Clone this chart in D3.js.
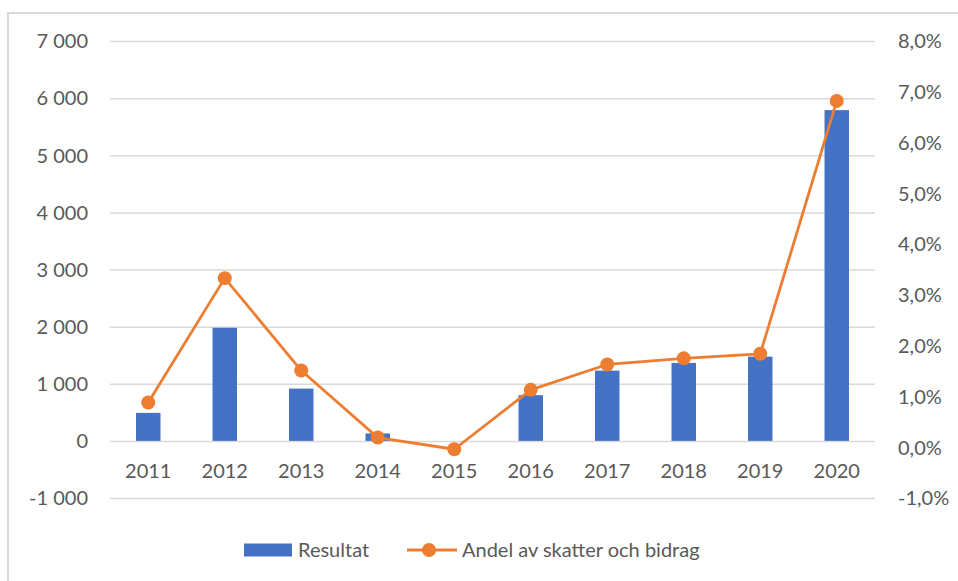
<!DOCTYPE html>
<html>
<head>
<meta charset="utf-8">
<script src="https://cdn.jsdelivr.net/npm/d3@7"></script>
<style>
  body{margin:0;background:#fff;}
  text{font-family:Lato,"Open Sans",sans-serif;fill:#595959;}
</style>
</head>
<body>
<svg id="svg" width="958" height="581"></svg>
<script>
var years=["2011","2012","2013","2014","2015","2016","2017","2018","2019","2020"];
var resultat=[490,1980,915,130,0,800,1230,1365,1475,5790];
var andel=[0.88,3.33,1.51,0.19,-0.04,1.13,1.63,1.75,1.84,6.82];
var leftTicks=[-1000,0,1000,2000,3000,4000,5000,6000,7000];
var rightTicks=[-1,0,1,2,3,4,5,6,7,8];
var seriesNames=["Resultat","Andel av skatter och bidrag"];

var blue="#4472C4", orange="#ED7D31", grid="#d9d9d9";
var plotLeft=110, plotRight=875, plotTop=41, plotBottom=498;

var svg=d3.select("#svg");
var locale=d3.formatLocale({decimal:",",thousands:" ",grouping:[3],currency:["","kr"],minus:"-"});

var x=d3.scaleBand().domain(years).range([plotLeft,plotRight]);
var yL=d3.scaleLinear().domain([-1000,7000]).range([plotBottom,plotTop]);
var yR=d3.scaleLinear().domain([-1,8]).range([plotBottom,plotTop]);

// frame
svg.append("path")
    .attr("d","M8,581V13H958")
    .attr("fill","none")
    .attr("stroke",grid)
    .attr("stroke-width",2);

// left axis + gridlines
var gl=svg.append("g")
    .attr("transform","translate("+plotLeft+",0)")
    .call(d3.axisLeft(yL).tickValues(leftTicks).tickSize(-(plotRight-plotLeft)).tickPadding(22).tickFormat(locale.format(",")));
gl.select(".domain").remove();
gl.selectAll("line").attr("stroke",grid).attr("stroke-width",1.5);
gl.selectAll("text").style("font-size","20px").attr("dy","0.34em");

// right axis
var gr=svg.append("g")
    .attr("transform","translate("+plotRight+",0)")
    .call(d3.axisRight(yR).tickValues(rightTicks).tickSize(0).tickPadding(23).tickFormat(d=>locale.format(".1f")(d)+"%"));
gr.select(".domain").remove();
gr.selectAll("text").style("font-size","20px").attr("dy","0.34em");

// bars
var bw=x.bandwidth()*0.32;
svg.append("g").selectAll("rect")
    .data(resultat).enter().append("rect")
        .attr("x",(d,i)=>x(years[i])+x.bandwidth()/2-bw/2)
        .attr("y",d=>yL(Math.max(d,0)))
        .attr("width",bw)
        .attr("height",d=>Math.abs(yL(d)-yL(0)))
        .attr("fill",blue);

// x axis labels
var gx=svg.append("g")
    .attr("transform","translate(0,"+yL(0)+")")
    .call(d3.axisBottom(x).tickSize(0).tickPadding(23));
gx.select(".domain").remove();
gx.selectAll("text").style("font-size","20px");

// line
var line=d3.line()
    .x((d,i)=>x(years[i])+x.bandwidth()/2)
    .y(d=>yR(d));
svg.append("path")
    .datum(andel)
    .attr("d",line)
    .attr("fill","none")
    .attr("stroke",orange)
    .attr("stroke-width",2.8)
    .attr("stroke-linejoin","round");
svg.append("g").selectAll("circle")
    .data(andel).enter().append("circle")
        .attr("cx",(d,i)=>x(years[i])+x.bandwidth()/2)
        .attr("cy",d=>yR(d))
        .attr("r",7)
        .attr("fill",orange);

// legend
var lg=svg.append("g").attr("transform","translate(0,550)");
lg.append("rect").attr("x",244).attr("y",-6.5).attr("width",48).attr("height",13).attr("fill",blue);
lg.append("text").attr("x",298).attr("dy","0.35em").style("font-size","20px").text(seriesNames[0]);
lg.append("line").attr("x1",407).attr("x2",457).attr("stroke",orange).attr("stroke-width",2.8);
lg.append("circle").attr("cx",429).attr("r",7).attr("fill",orange);
lg.append("text").attr("x",462).attr("dy","0.35em").style("font-size","20px").text(seriesNames[1]);
</script>
</body>
</html>
